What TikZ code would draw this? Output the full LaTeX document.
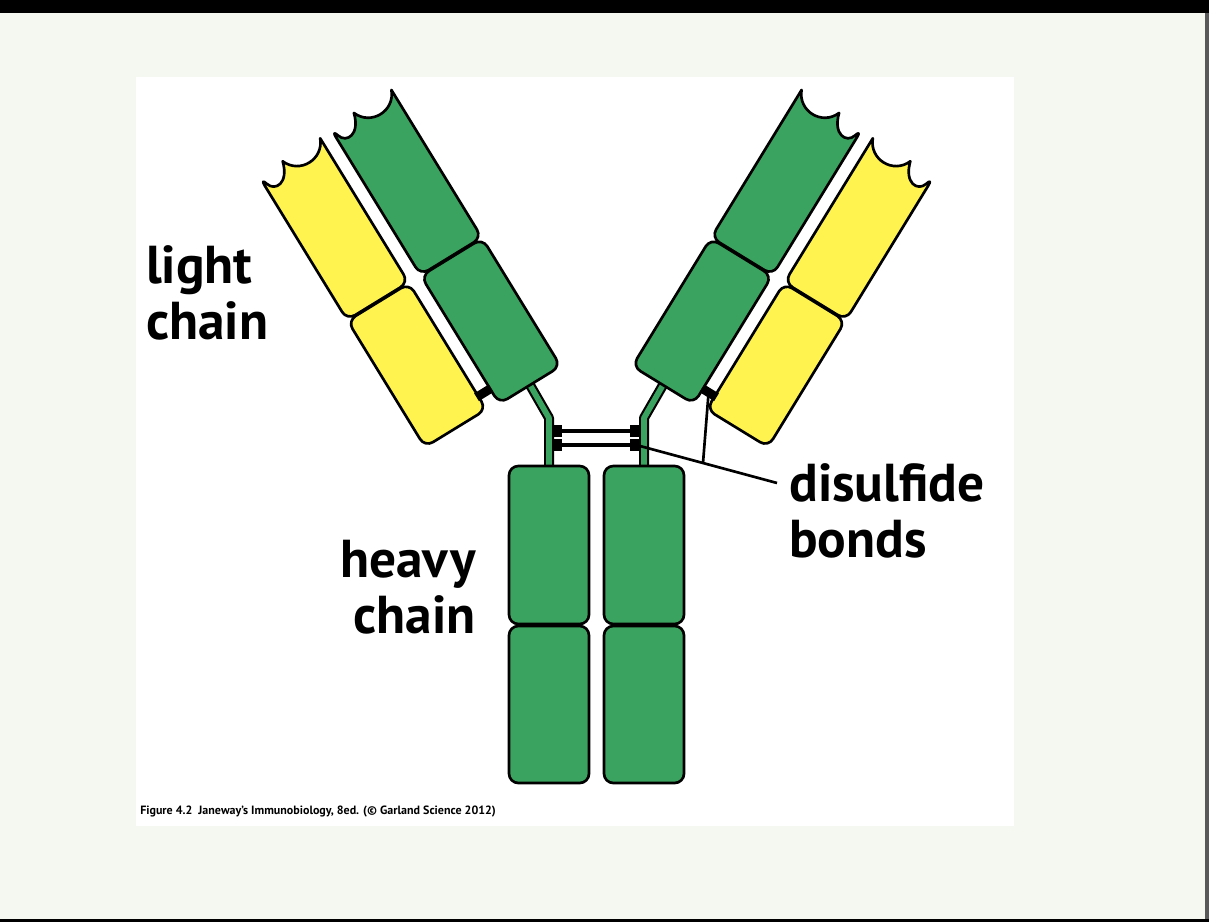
\documentclass[tikz,border=0pt]{standalone}
\usepackage{fontspec}
\setmainfont{PT Sans}
\definecolor{abgreen}{HTML}{3AA35F}
\definecolor{abyellow}{HTML}{FFF44F}
\definecolor{pagebg}{HTML}{F5F8F1}

\begin{document}
\begin{tikzpicture}[x=0.75pt,y=-0.75pt,
                    igdom/.style={draw=black,
                                   line width=2pt,
                                   rounded corners=7pt,
                                   line join=round},
                    hdom/.style={igdom,fill=abgreen},
                    ldom/.style={igdom,fill=abyellow},
                    bondbar/.style={draw=black,line width=2.6pt},
                    lbl/.style={font=\bfseries\fontsize{40}{42}\selectfont,
                                align=left,inner sep=0pt}]
    \useasboundingbox (0,0) rectangle (1209,922);
    \fill[pagebg] (0,0) rectangle (1209,922);
    \fill[black] (0,0) rectangle (1209,13);
    \fill[black] (0,919) rectangle (1209,922);
    \fill[gray!70!black] (1205,13) rectangle (1209,919);
    \fill[white] (136,77) rectangle (1014,826);

    % hinge strands
    \foreach \sx/\ox in {549/530, 644/663} {
        \draw[line width=7.5pt,line join=round] (\ox,385) -- (\sx,418) -- (\sx,468);
        \draw[abgreen,line width=4.3pt,line join=round] (\ox,385) -- (\sx,418) -- (\sx,468);
    }

    % the two arms
    \foreach \ox/\ang/\sd in {530/31.5/1, 663/-31.5/-1} {
        \begin{scope}[shift={(\ox,385)},rotate=\ang,xscale=\sd]
            \draw[hdom] (-36,0) rectangle (36,-150);
            \draw[hdom] (-36,-151) -- (-36,-322) [sharp corners]
                        .. controls (-30,-302) and (-14,-302) .. (-8,-324)
                        .. controls (0,-304) and (28,-304) .. (36,-324)
                        [rounded corners=7pt] -- (36,-151) -- cycle;
            \draw[ldom] (-122,-2) rectangle (-50,-150);
            \draw[ldom] (-122,-151) -- (-122,-318) [sharp corners]
                        .. controls (-116,-298) and (-100,-298) .. (-94,-320)
                        .. controls (-86,-300) and (-58,-300) .. (-50,-320)
                        [rounded corners=7pt] -- (-50,-151) -- cycle;
            \fill[black] (-52,-22) rectangle (-35,-13);
            \coordinate (lhb\sd) at (-43,-17);
        \end{scope}
    }

    % heavy chain tails
    \draw[hdom] (509,466) rectangle (589,624);
    \draw[hdom] (509,626) rectangle (589,783);
    \draw[hdom] (604,466) rectangle (684,624);
    \draw[hdom] (604,626) rectangle (684,783);

    % disulfide bonds between heavy chains
    \foreach \yy in {431,445} {
        \draw[bondbar] (556,\yy) -- (636,\yy);
        \fill[black] (552,\yy-6) rectangle (562,\yy+6);
        \fill[black] (630,\yy-6) rectangle (640,\yy+6);
    }
    \coordinate (hhb) at (640,446);

    % labels
    \node[lbl,anchor=north west] (light) at (146,245) {light\\chain};
    \node[lbl,anchor=north east,align=right] (heavy) at (476,540) {heavy\\chain};
    \node[lbl,anchor=north west] (ssb) at (789,463) {disulfide\\bonds};
    \node[font=\bfseries\fontsize{9}{11}\selectfont,anchor=west,inner sep=0pt] (cap) at (140,812)
        {Figure 4.2\ \ Janeway’s Immunobiology, 8ed. (© Garland Science 2012)};

    \coordinate (ssbend) at (777,483);
    \coordinate (fork) at (703,463);
    \draw[line width=2pt] (ssbend) -- (hhb);
    \draw[line width=2pt] (fork) -- (lhb-1);
\end{tikzpicture}
\end{document}
